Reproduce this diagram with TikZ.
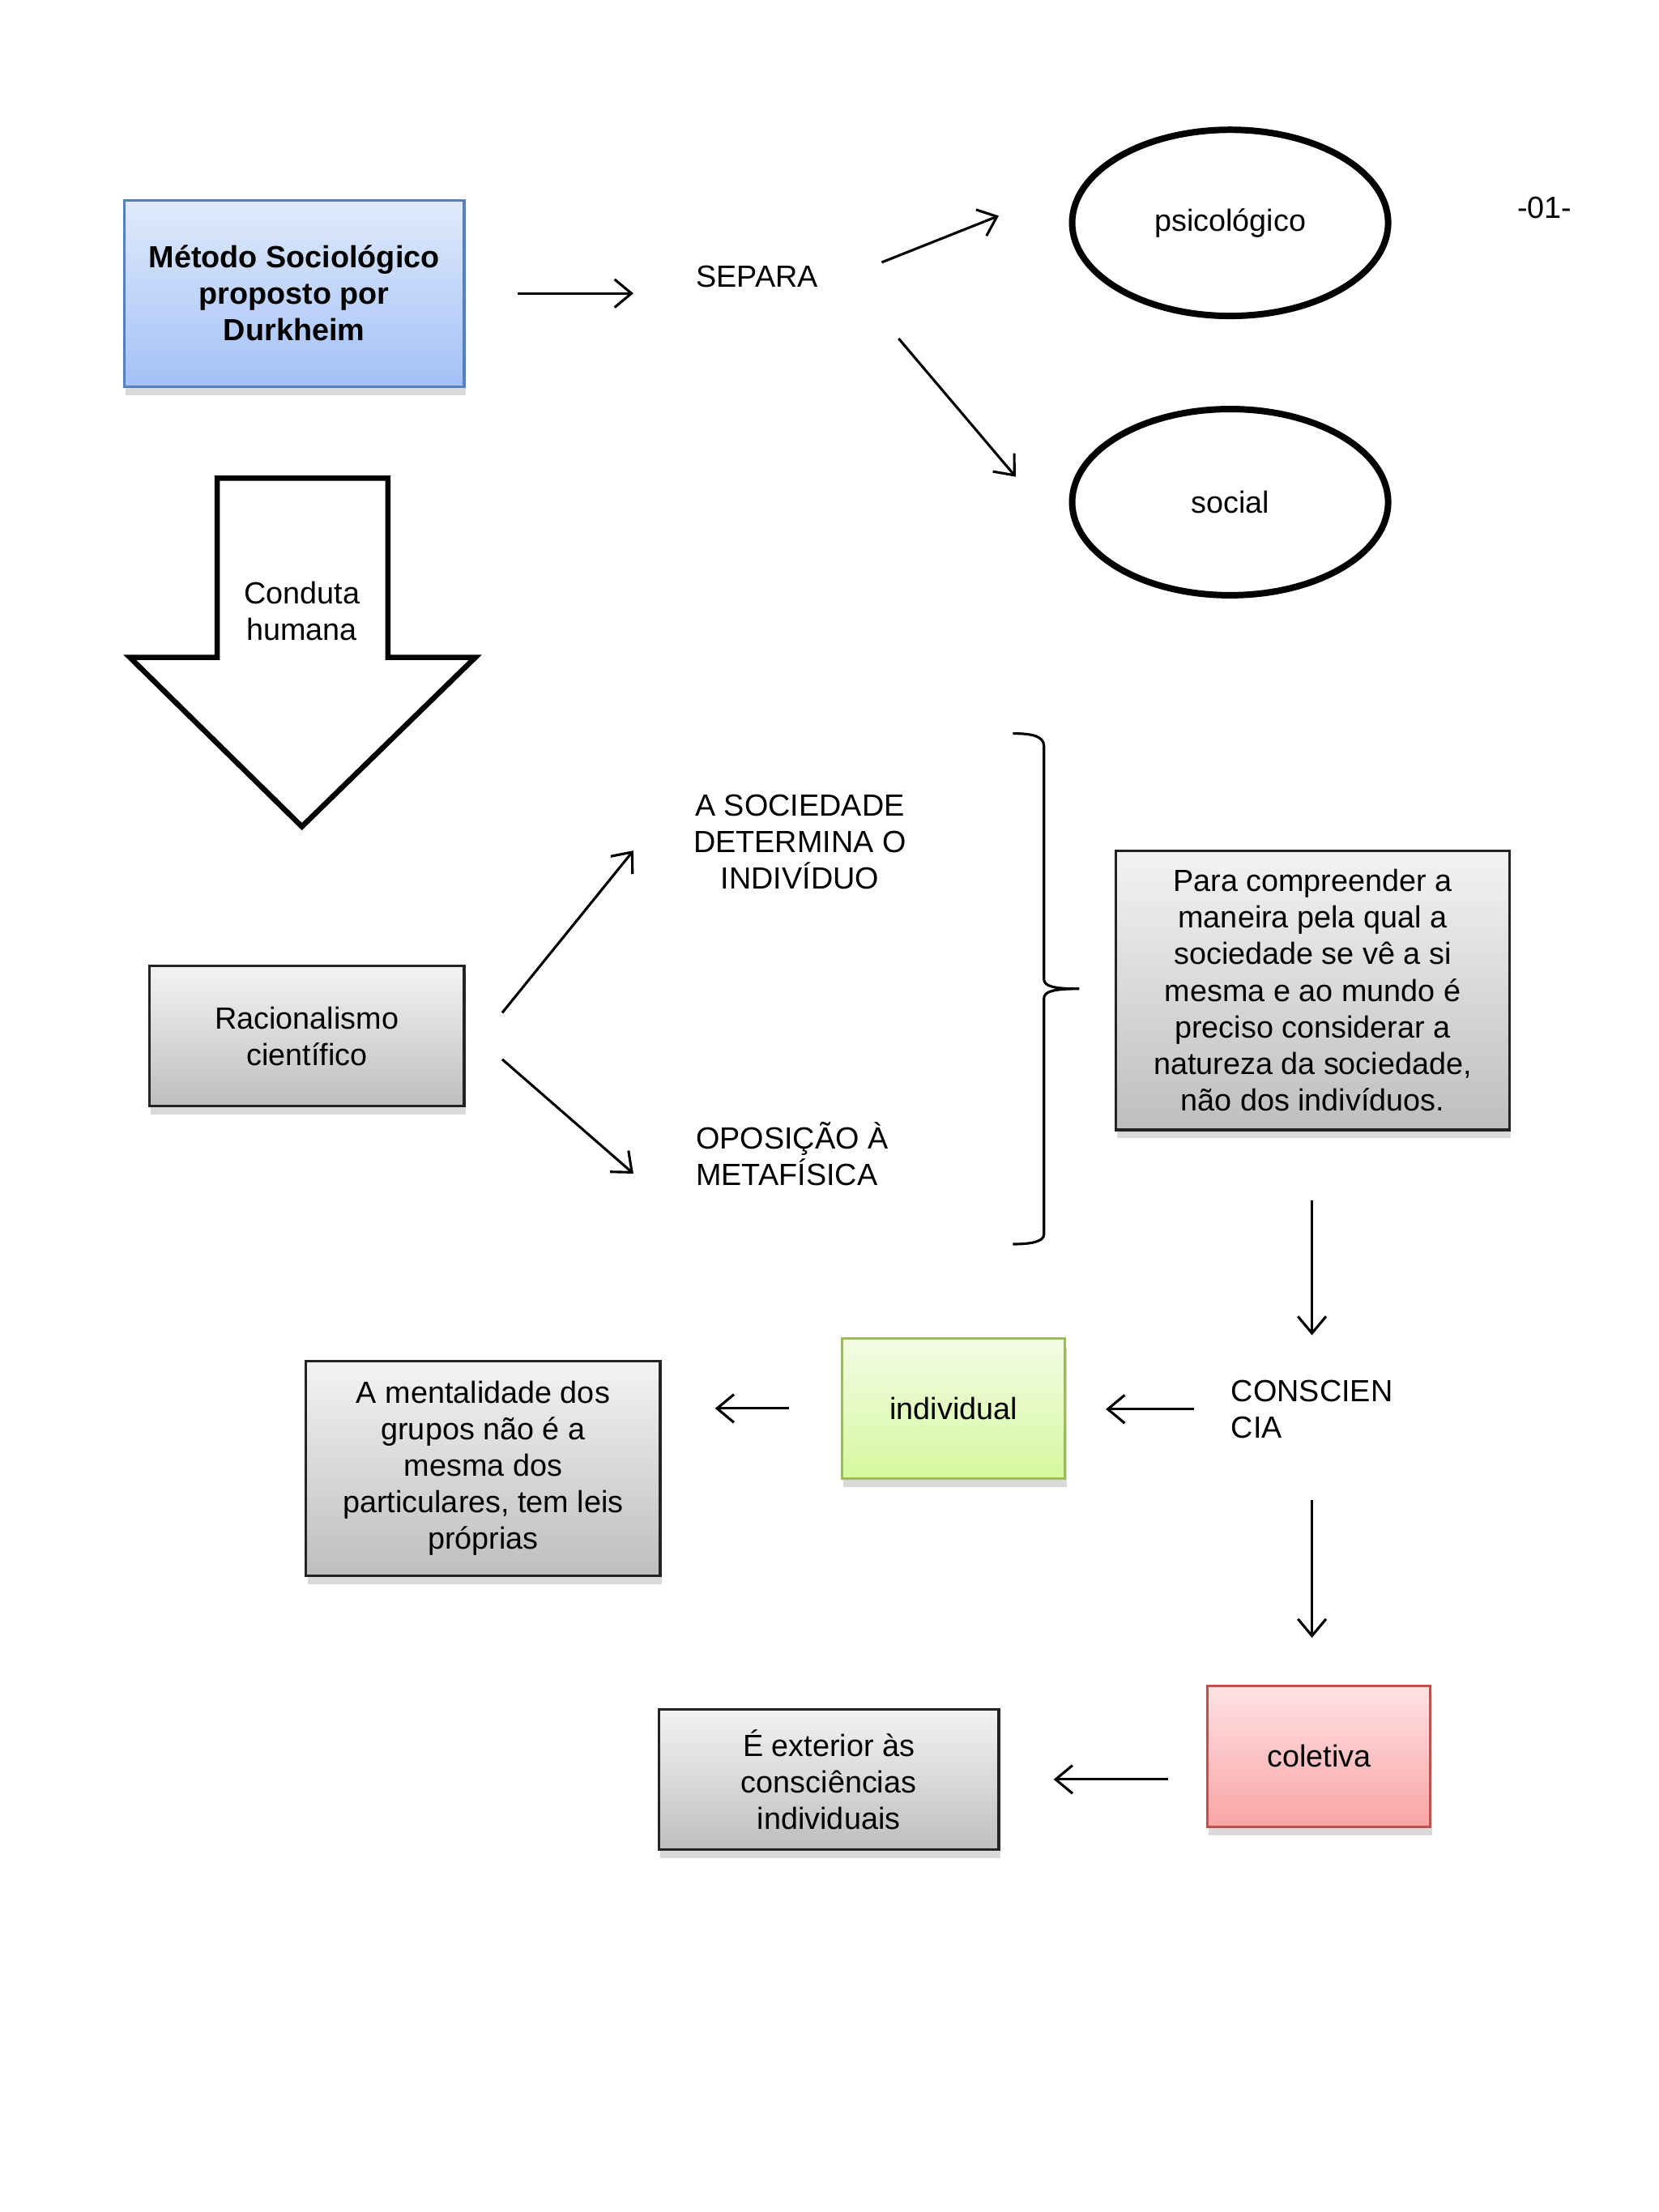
\documentclass[tikz,border=0pt]{standalone}
\usepackage{fontspec}
\setmainfont{Liberation Sans}
\usepackage{tikz}
\usetikzlibrary{arrows.meta,positioning,shapes.geometric,shadows,calc}
\newlength\px
\setlength\px{0.017655cm}
\newcommand\diagfont{\fontsize{10.9}{13.0}\selectfont}
\definecolor{blueTop}{RGB}{224,234,251}
\definecolor{blueBot}{RGB}{163,193,246}
\definecolor{blueLine}{RGB}{84,128,192}
\definecolor{greyTop}{RGB}{243,243,243}
\definecolor{greyBot}{RGB}{190,190,190}
\definecolor{greyLine}{RGB}{35,35,35}
\definecolor{greenTop}{RGB}{243,252,229}
\definecolor{greenBot}{RGB}{213,248,158}
\definecolor{greenLine}{RGB}{155,187,89}
\definecolor{redTop}{RGB}{255,226,229}
\definecolor{redBot}{RGB}{249,164,164}
\definecolor{redLine}{RGB}{192,80,77}
\tikzset{>={Straight Barb[length=6pt,width=10pt]}}
\tikzset{
    every node/.style={font=\diagfont, inner sep=0pt, align=center},
    box/.style={rectangle, line width=0.9pt, drop shadow={shadow xshift=1\px, shadow yshift=-6\px, opacity=0.3}},
    bluebox/.style={box, draw=blueLine, top color=blueTop, bottom color=blueBot},
    greybox/.style={box, draw=greyLine, top color=greyTop, bottom color=greyBot},
    greenbox/.style={box, draw=greenLine, top color=greenTop, bottom color=greenBot},
    redbox/.style={box, draw=redLine, top color=redTop, bottom color=redBot},
    oval/.style={draw, ellipse, line width=2.3pt, minimum width=224\px, minimum height=132\px},
    link/.style={->, line width=0.9pt},
}

\begin{document}
\begin{tikzpicture}[x=1\px, y=-1\px]
    \useasboundingbox (0,0) rectangle (1176,1568.2); % page

    % top row
    \node[bluebox, minimum width=241\px, minimum height=132\px, font=\diagfont\bfseries] (metodo) at (208.5,208) {Método Sociológico\\proposto por\\Durkheim};
    \node[anchor=west] (separa) at (493,196) {SEPARA};
    \node[oval] (psico) at (872,158) {psicológico};
    \node[oval] (social) at (872,356) {social};
    \node (pagenum) at (1095,147) {-01-};

    \draw[link, shorten <=37\px, shorten >=44\px] (metodo.east) -- (metodo.east -| separa.west);
    \coordinate (sepUpA) at (625,186);
    \coordinate (sepUpB) at (708,153);
    \coordinate (sepDnA) at (637,240);
    \coordinate (sepDnB) at (720,338);
    \draw[link] (sepUpA) -- (sepUpB); % to psico
    \draw[link] (sepDnA) -- (sepDnB); % to social

    % big block arrow
    \draw[line width=1.9pt, line join=miter] (154,339) -- (275,339) -- (275,466) -- (337,466) -- (214,586) -- (92,466) -- (154,466) -- cycle;
    \node (conduta) at (214,433) {Conduta\\humana};

    % middle row
    \node[greybox, minimum width=223\px, minimum height=99\px] (racional) at (217.5,734.5) {Racionalismo\\científico};
    \node (soc) at (567,597) {A SOCIEDADE\\DETERMINA O\\INDIVÍDUO};
    \node[anchor=west, align=left] (opos) at (493,818) {OPOSIÇÃO À\\METAFÍSICA};
    \coordinate (racUpA) at (356,718);
    \coordinate (racUpB) at (449,603);
    \coordinate (racDnA) at (356,751);
    \coordinate (racDnB) at (449,832);
    \draw[link] (racUpA) -- (racUpB); % to soc
    \draw[link] (racDnA) -- (racDnB); % to opos

    % brace
    \draw[line width=0.9pt] (718,520) .. controls (732,520) and (740,522) .. (740,529) -- (740,694)
        .. controls (740,699) and (746,701) .. (765,701)
        .. controls (746,701) and (740,703) .. (740,708) -- (740,875)
        .. controls (740,880) and (732,882) .. (718,882);

    \node[greybox, minimum width=279\px, minimum height=198\px] (para) at (930.5,702) {Para compreender a\\maneira pela qual a\\sociedade se vê a si\\mesma e ao mundo é\\preciso considerar a\\natureza da sociedade,\\não dos indivíduos.};

    % lower part
    \node[align=left, minimum height=60\px] (consc) at (930,999) {CONSCIEN\\CIA};
    \node[greenbox, minimum width=158\px, minimum height=99\px] (indiv) at (676,998.5) {individual};
    \node[greybox, minimum width=251\px, minimum height=152\px] (mental) at (342.5,1041) {A mentalidade dos\\grupos não é a\\mesma dos\\particulares, tem leis\\próprias};
    \node[redbox, minimum width=158\px, minimum height=100\px] (coletiva) at (935,1245) {coletiva};
    \node[greybox, minimum width=241\px, minimum height=99\px] (exterior) at (587.5,1261.5) {É exterior às\\consciências\\individuais};

    \draw[link, shorten <=49\px, shorten >=22\px] (consc.north |- para.south) -- (consc.north);
    \draw[link, shorten <=26\px, shorten >=28\px] (consc.west) -- (consc.west -| indiv.east);
    \draw[link, shorten <=37\px, shorten >=38\px] (indiv.west) -- (indiv.west -| mental.east);
    \draw[link, shorten <=34\px, shorten >=33\px] (consc.south) -- (consc.south |- coletiva.north);
    \draw[link, shorten <=27\px, shorten >=38\px] (coletiva.west |- exterior.east) -- (exterior.east);
\end{tikzpicture}
\end{document}
